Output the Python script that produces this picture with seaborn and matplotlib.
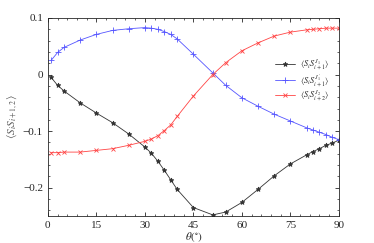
import matplotlib
matplotlib.use("Agg")
import matplotlib.pyplot as plt
import seaborn as sns
import pandas as pd
from matplotlib.ticker import MultipleLocator

theta = [1, 3, 5, 10, 15, 20, 25, 30, 32, 34, 36, 38, 40, 45, 51,
         55, 60, 65, 70, 75, 80, 82, 84, 86, 88, 90]

j1 = [-0.005, -0.019, -0.029, -0.050, -0.068, -0.085, -0.105, -0.128, -0.139,
      -0.153, -0.169, -0.186, -0.203, -0.235, -0.248, -0.243, -0.226, -0.203,
      -0.179, -0.158, -0.142, -0.136, -0.131, -0.125, -0.121, -0.116]

j1p = [0.025, 0.039, 0.048, 0.061, 0.071, 0.078, 0.081, 0.083, 0.082, 0.080,
       0.076, 0.071, 0.063, 0.036, 0.003, -0.019, -0.041, -0.056, -0.070,
       -0.082, -0.094, -0.098, -0.102, -0.106, -0.111, -0.115]

j2 = [-0.138, -0.138, -0.137, -0.137, -0.134, -0.131, -0.125, -0.118, -0.114,
      -0.108, -0.099, -0.089, -0.074, -0.038, 0.000, 0.021, 0.042, 0.056,
      0.068, 0.075, 0.079, 0.080, 0.081, 0.082, 0.082, 0.082]

labels = [r"$\langle S_i S^{J_1}_{i+1}\rangle$",
          r"$\langle S_i S^{J_1'}_{i+1}\rangle$",
          r"$\langle S_i S^{J_2}_{i+2}\rangle$"]

sns.set_style("ticks")
plt.rcParams["font.family"] = ["Liberation Serif", "DejaVu Serif"]
plt.rcParams["mathtext.fontset"] = "stix"

fig = plt.figure(figsize=(3.74, 2.43), dpi=100)
ax = fig.add_axes([0.128, 0.111, 0.778, 0.815])

# Plot the three correlators
series = [(j1, "#333333", "*", 3.5), (j1p, "#5555ff", "+", 4), (j2, "#ff4444", "x", 3)]
for (vals, color, marker, ms), lab in zip(series, labels):
    df = pd.DataFrame({"theta": theta, "val": vals})
    sns.lineplot(data=df, x="theta", y="val", ax=ax, color=color, marker=marker,
                 markersize=ms, linewidth=0.6, markeredgewidth=0.6,
                 markeredgecolor=color, label=lab)

ax.set_xlim(0, 90)
ax.set_ylim(-0.25, 0.1)
ax.xaxis.set_major_locator(MultipleLocator(15))
ax.xaxis.set_minor_locator(MultipleLocator(3))
ax.yaxis.set_major_locator(MultipleLocator(0.1))
ax.yaxis.set_minor_locator(MultipleLocator(0.02))
ax.set_yticks([-0.2, -0.1, 0, 0.1])
ax.set_yticklabels(["\u22120.2", "\u22120.1", "0", "0.1"])
ax.tick_params(which="both", direction="in", top=True, right=True, labelsize=8)
ax.tick_params(which="major", length=3, width=0.6)
ax.tick_params(which="minor", length=1.5, width=0.5)
for s in ax.spines.values():
    s.set_linewidth(0.6)

ax.set_xlabel(r"$\theta(^{\circ})$", fontsize=8, labelpad=0)
ax.set_ylabel(r"$\langle S_i S_{i+1,2}\rangle$", fontsize=8, color="#555555", labelpad=2)

ax.legend(loc="upper right", bbox_to_anchor=(0.985, 0.83), frameon=False,
          fontsize=6, handlelength=2.4, labelspacing=0.05, borderpad=0.2,
          handletextpad=0.5)

fig.savefig("out.png", dpi=100)
